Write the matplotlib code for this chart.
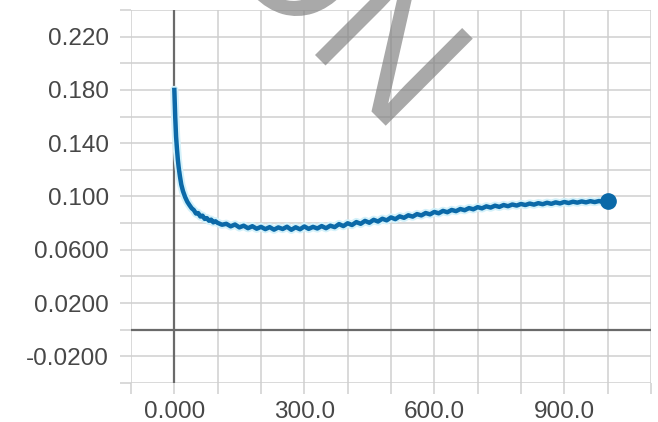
import matplotlib
matplotlib.use('Agg')
import matplotlib.pyplot as plt
from matplotlib.textpath import TextPath
from matplotlib.patches import PathPatch
from matplotlib.font_manager import FontProperties
import matplotlib.transforms as mtransforms

# training curve (step, value)
steps_head = [0, 2, 4, 6, 8, 10, 13, 16, 20, 25, 30, 35, 40, 45, 50, 55, 60,
              65, 70, 75, 80, 85, 90, 95]
values_head = [0.180, 0.160, 0.145, 0.136, 0.128, 0.122, 0.115, 0.109, 0.104,
               0.0995, 0.0960, 0.0935, 0.0912, 0.0898, 0.0872, 0.0876, 0.0850,
               0.0856, 0.0832, 0.0838, 0.0818, 0.0826, 0.0806, 0.0814]
steps_tail = list(range(100, 1001, 10))
values_tail = [
    0.0802, 0.0788, 0.0795, 0.0776, 0.0790, 0.0768, 0.0781, 0.0762, 0.0777, 0.0758,
    0.0772, 0.0755, 0.0770, 0.0751, 0.0768, 0.0756, 0.0773, 0.0750, 0.0769, 0.0754,
    0.0775, 0.0757, 0.0772, 0.0760, 0.0778, 0.0762, 0.0781, 0.0770, 0.0793, 0.0778,
    0.0799, 0.0786, 0.0808, 0.0795, 0.0817, 0.0803, 0.0825, 0.0812, 0.0833, 0.0821,
    0.0843, 0.0830, 0.0851, 0.0840, 0.0859, 0.0849, 0.0868, 0.0858, 0.0876, 0.0866,
    0.0884, 0.0874, 0.0892, 0.0882, 0.0899, 0.0890, 0.0906, 0.0897, 0.0913, 0.0904,
    0.0920, 0.0911, 0.0926, 0.0917, 0.0931, 0.0922, 0.0936, 0.0927, 0.0940, 0.0932,
    0.0944, 0.0936, 0.0947, 0.0939, 0.0950, 0.0942, 0.0953, 0.0945, 0.0956, 0.0948,
    0.0959, 0.0951, 0.0961, 0.0954, 0.0963, 0.0956, 0.0965, 0.0958, 0.0966, 0.0959,
    0.0966]
steps = steps_head + steps_tail
values = values_head + values_tail

x_ticks = list(range(-100, 1101, 100))
x_labels = {0: '0.000', 300: '300.0', 600: '600.0', 900: '900.0'}
y_ticks = [-0.04, -0.02, 0.0, 0.02, 0.04, 0.06, 0.08, 0.10, 0.12, 0.14, 0.16,
           0.18, 0.20, 0.22, 0.24]
y_labels = {-0.02: '-0.0200', 0.02: '0.0200', 0.06: '0.0600', 0.10: '0.100',
            0.14: '0.140', 0.18: '0.180', 0.22: '0.220'}

plt.rcParams['font.family'] = ['Liberation Sans', 'DejaVu Sans']

fig = plt.figure(figsize=(6.58, 4.22), dpi=100)
ax = fig.add_axes([131 / 658, 1 - 383 / 422, 520 / 658, 373 / 422])

grid_col = '#cfcfcf'
ax.set_xlim(-100, 1100)
ax.set_ylim(-0.04, 0.24)
ax.set_xticks(x_ticks)
ax.set_xticklabels([x_labels.get(t, '') for t in x_ticks])
ax.set_yticks(y_ticks)
ax.set_yticklabels([y_labels.get(round(t, 2), '') for t in y_ticks])
ax.grid(True, color=grid_col, linewidth=1.1)
ax.tick_params(axis='both', length=8, width=1.1, color=grid_col,
               labelsize=17.5, labelcolor='#474747')
ax.tick_params(axis='y', pad=8)
ax.tick_params(axis='x', pad=5)
for s in ax.spines.values():
    s.set_visible(False)

# zero axes drawn darker, above the grid
ax.axhline(0, color='#6a6a6a', linewidth=1.6, zorder=2)
ax.axvline(0, color='#6a6a6a', linewidth=1.6, zorder=2)

# raw halo + main line + last point marker
ax.plot(steps, values, color='#d3f1fa', linewidth=6, solid_capstyle='round', zorder=3)
ax.plot(steps, values, color='#0b69a8', linewidth=3.2, zorder=4)
ax.plot(steps[-1], values[-1], 'o', color='#0b69a8', markersize=11, zorder=5)

# grey "ON" watermark, rotated -45 deg
prop = FontProperties(family='Liberation Sans')
tp = TextPath((0, 0), 'ON', size=1, prop=prop)
tn = TextPath((0, 0), 'N', size=1, prop=prop)
n_left = tp.get_extents().x1 - tn.get_extents().x1 + tn.get_extents().x0
em_px = 179
tr = (mtransforms.Affine2D().translate(-n_left, 0).scale(em_px)
      .rotate_deg(-45).translate(315, 422 - 55).scale(1 / 100.0)
      + fig.dpi_scale_trans)
wm = PathPatch(tp, transform=tr, facecolor='#808080', edgecolor='none',
               alpha=0.68, zorder=10)
fig.add_artist(wm)

fig.savefig('out.png', dpi=100)
